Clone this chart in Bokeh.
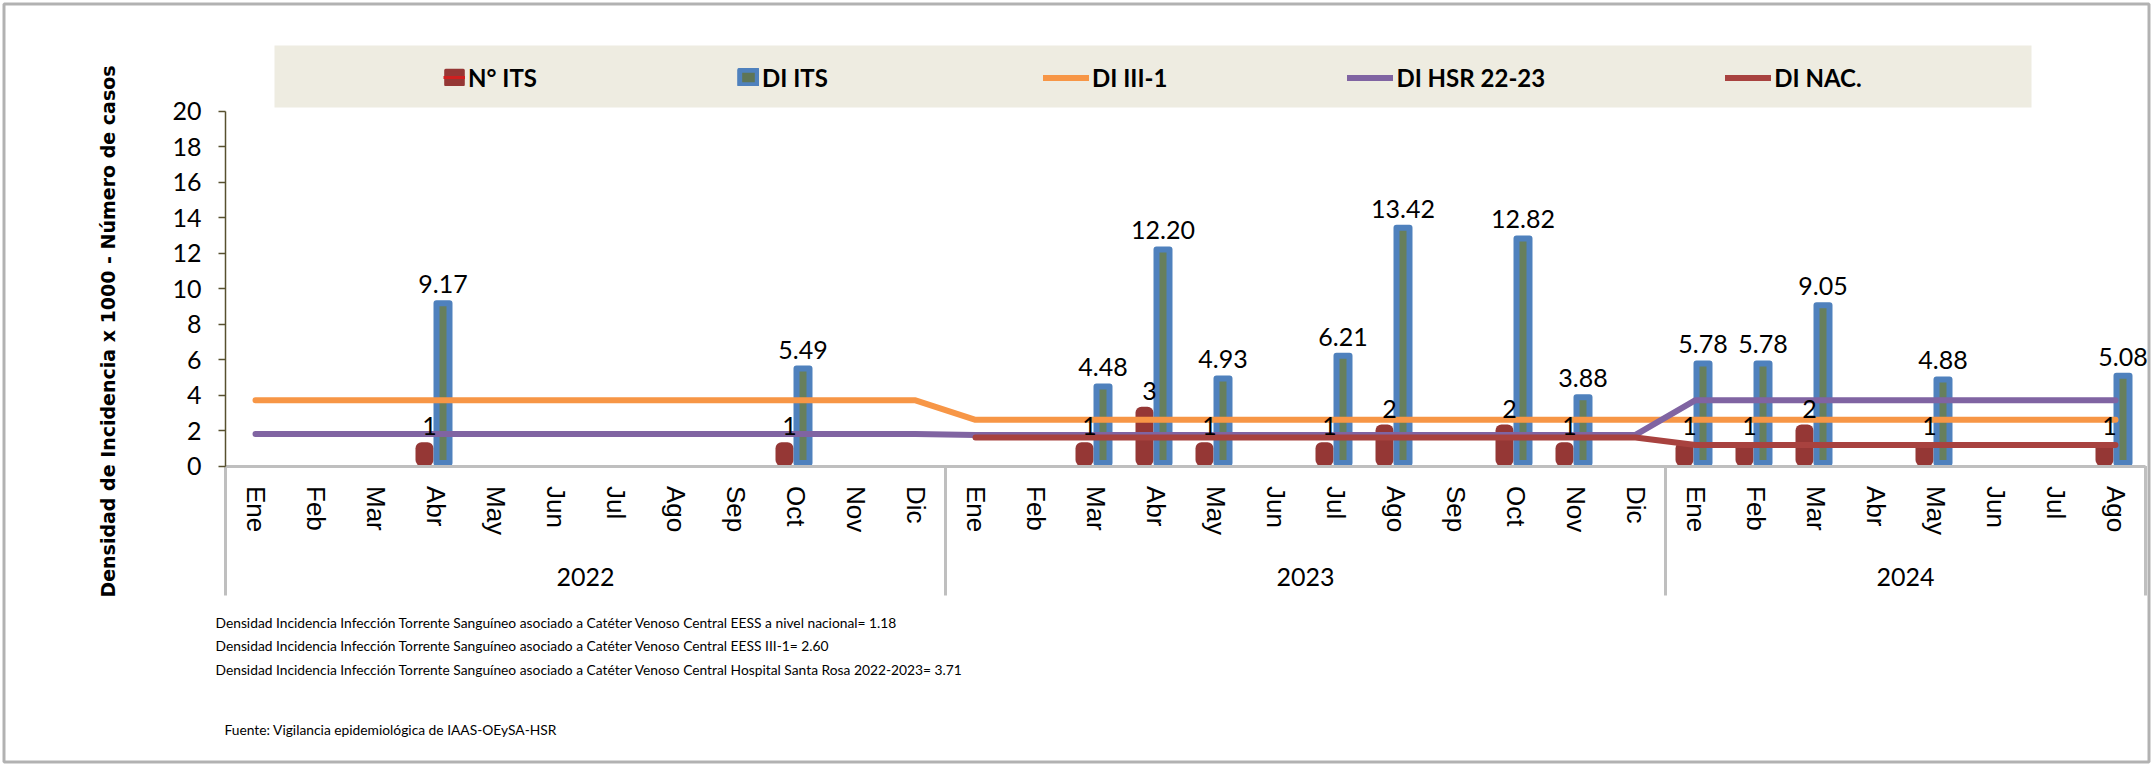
import math
from bokeh.plotting import figure
from bokeh.models import (ColumnDataSource, Legend, LegendItem, Label, BoxAnnotation,
                          Range1d, FixedTicker, LinearAxis)
from bokeh.core.properties import value
from bokeh.embed import file_html
from bokeh.resources import INLINE

# ---------------- data ----------------
years = ["2022", "2023", "2024"]
month_names = ["Ene", "Feb", "Mar", "Abr", "May", "Jun", "Jul", "Ago", "Sep", "Oct", "Nov", "Dic"]
months_per_year = [12, 12, 8]

# N° ITS (cases) per month
n_its = [None, None, None, 1, None, None, None, None, None, 1, None, None,
         None, None, 1, 3, 1, None, 1, 2, None, 2, 1, None,
         1, 1, 2, None, 1, None, None, 1]
# DI ITS (density per 1000)
di_its = [None, None, None, 9.17, None, None, None, None, None, 5.49, None, None,
          None, None, 4.48, 12.20, 4.93, None, 6.21, 13.42, None, 12.82, 3.88, None,
          5.78, 5.78, 9.05, None, 4.88, None, None, 5.08]
# reference lines
di_iii1 = [3.7] * 12 + [2.6] * 12 + [2.6] * 8
di_hsr = [1.8] * 12 + [1.75] * 12 + [3.71] * 8
di_nac = [None] * 12 + [1.6] * 12 + [1.18] * 8

y_ticks = list(range(0, 21, 2))
notes = [
    "Densidad Incidencia Infección Torrente Sanguíneo asociado a Catéter Venoso Central EESS a nivel nacional= 1.18",
    "Densidad Incidencia Infección Torrente Sanguíneo asociado a Catéter Venoso Central EESS III-1= 2.60",
    "Densidad Incidencia Infección Torrente Sanguíneo asociado a Catéter Venoso Central Hospital Santa Rosa 2022-2023= 3.71",
]
source_note = "Fuente:  Vigilancia epidemiológica de IAAS-OEySA-HSR"
y_title = "Densidad de Incidencia x 1000 - Número de casos"

# ---------------- geometry ----------------
W, H = 2152, 765
UX = 30.0                     # px per x unit (one month = 2 units)
UY = 17.75                    # px per y unit
X_LEFT_PX = 225               # px of the plot's left edge
Y0_PX = 465.5                 # px of y = 0

month_labels = [m for n in months_per_year for m in month_names[:n]]
n_cat = len(month_labels)
xc = [2 * i for i in range(n_cat)]            # category centres
starts = [sum(months_per_year[:k]) for k in range(len(years))]
group_centres = [2 * s + (n - 1) for s, n in zip(starts, months_per_year)]
bounds_x = [2 * s - 1 for s in starts] + [2 * n_cat - 1]

xs = -1 - X_LEFT_PX / UX
ys = -(H - Y0_PX) / UY
NAN = float("nan")

def nan(v):
    return NAN if v is None else v

line_src = ColumnDataSource(dict(
    x=xc,
    iii1=[nan(v) for v in di_iii1],
    hsr=[nan(v) for v in di_hsr],
    nac=[nan(v) for v in di_nac],
))
RED_OFF = -11 / UX
BLUE_OFF = 7.5 / UX
bar_idx = [i for i, v in enumerate(n_its) if v is not None]
red_src = ColumnDataSource(dict(
    x=[xc[i] + RED_OFF for i in bar_idx],
    xl=[xc[i] + RED_OFF + 5 / UX for i in bar_idx],
    n=[n_its[i] for i in bar_idx],
    lbl=[str(n_its[i]) for i in bar_idx],
))
di_idx = [i for i, v in enumerate(di_its) if v is not None]
blue_src = ColumnDataSource(dict(
    x=[xc[i] + BLUE_OFF for i in di_idx],
    d=[di_its[i] for i in di_idx],
    lbl=["%.2f" % di_its[i] for i in di_idx],
))

p = figure(width=W, height=H, x_range=Range1d(xs, xs + W / UX),
           y_range=Range1d(ys, ys + H / UY), x_axis_type=None, y_axis_type=None,
           title=None, output_backend="svg", toolbar_location=None,
           min_border=0, min_border_left=0, min_border_right=0,
           min_border_top=0, min_border_bottom=0)
p.background_fill_color = "white"
p.border_fill_color = "white"
p.outline_line_color = None

# group separators (x-axis category structure)
SEP_BOTTOM = -(595 - Y0_PX) / UY
p.segment(x0=bounds_x, y0=[0] * len(bounds_x), x1=bounds_x, y1=[SEP_BOTTOM] * len(bounds_x),
          line_color="#BFBFBF", line_width=3)

RED_LW, BLUE_LW = 12, 6
red_bars = p.vbar(x="x", top="n", bottom=RED_LW / 2 / UY, width=6 / UX, source=red_src,
                  fill_color="#953735", line_color="#953735", line_width=RED_LW,
                  line_join="round")
blue_bars = p.vbar(x="x", top="d", bottom=BLUE_LW / 2 / UY, width=13 / UX, source=blue_src,
                   fill_color="#677F5C", line_color="#4F81BD", line_width=BLUE_LW,
                   line_join="round")

l_iii1 = p.line(x="x", y="iii1", source=line_src, line_color="#F79646",
                line_width=6, line_cap="round", line_join="round")
l_hsr = p.line(x="x", y="hsr", source=line_src, line_color="#8064A2",
               line_width=6, line_cap="round", line_join="round")
l_nac = p.line(x="x", y="nac", source=line_src, line_color="#A8423F",
               line_width=6, line_cap="round", line_join="round")

p.text(x="x", y="d", text="lbl", source=blue_src,
       text_font=value("Lato"), text_font_size="25px", text_color="#000000",
       text_align="center", text_baseline="alphabetic", y_offset=-19)
p.text(x="xl", y="n", text="lbl", source=red_src,
       text_font=value("Lato"), text_font_size="25px", text_color="#000000",
       text_align="center", text_baseline="alphabetic", y_offset=-22)

# legend swatches (legend-only proxies; their single row is empty/NaN, nothing is plotted)
proxy = ColumnDataSource(dict(x=[NAN], y=[NAN]))
leg_red = p.vbar(x="x", top="y", width=0.1, source=proxy, fill_color="#953735",
                 line_color="#953735", line_width=3, line_join="round")
leg_red_dash = p.line(x="x", y="y", source=proxy, line_color="#D01F1F", line_width=3)
leg_blue = p.vbar(x="x", top="y", width=0.1, source=proxy, fill_color="#5E7556",
                  line_color="#4F81BD", line_width=5, line_join="round")

# ---------------- axes ----------------
x_month = LinearAxis(fixed_location=0, bounds=(bounds_x[0], bounds_x[-1]),
                     ticker=FixedTicker(ticks=xc),
                     major_label_overrides={x: m for x, m in zip(xc, month_labels)})
x_month.axis_line_color = "#BFBFBF"
x_month.axis_line_width = 3
x_month.major_tick_line_color = None
x_month.major_tick_out = 0
x_month.major_tick_in = 0
x_month.minor_tick_line_color = None
x_month.major_label_orientation = "vertical"
x_month.major_label_text_font = "Liberation Sans"
x_month.major_label_text_font_size = "26px"
x_month.major_label_text_color = "#000000"
x_month.major_label_standoff = 20
p.add_layout(x_month, "below")

x_year = LinearAxis(fixed_location=0, ticker=FixedTicker(ticks=group_centres),
                    major_label_overrides={c: y for c, y in zip(group_centres, years)})
x_year.axis_line_color = None
x_year.major_tick_line_color = None
x_year.major_tick_out = 0
x_year.major_tick_in = 0
x_year.minor_tick_line_color = None
x_year.major_label_text_font = "Lato"
x_year.major_label_text_font_size = "25px"
x_year.major_label_text_color = "#000000"
x_year.major_label_standoff = 102
p.add_layout(x_year, "below")

ya = LinearAxis(fixed_location=bounds_x[0], bounds=(0, 20), ticker=FixedTicker(ticks=y_ticks))
ya.axis_line_color = "#57502F"
ya.axis_line_width = 1.5
ya.major_tick_line_color = "#57502F"
ya.major_tick_line_width = 1.5
ya.major_tick_out = 7
ya.major_tick_in = 0
ya.minor_tick_line_color = None
ya.major_label_text_font = "Lato"
ya.major_label_text_font_size = "25px"
ya.major_label_text_color = "#000000"
ya.major_label_standoff = 17
p.add_layout(ya, "left")

# ---------------- frame border, legend band + legends ----------------
def sy(page_y):
    return H - page_y

p.add_layout(BoxAnnotation(left=3.5, right=W - 3.5, top=sy(3.5), bottom=sy(H - 3.5),
                           left_units="screen", right_units="screen",
                           top_units="screen", bottom_units="screen",
                           fill_alpha=0, line_color="#000000", line_width=3))

band = BoxAnnotation(left=274, right=2031, top=sy(45), bottom=sy(107),
                     left_units="screen", right_units="screen",
                     top_units="screen", bottom_units="screen",
                     fill_color="#EEECE1", fill_alpha=1.0, line_color=None,
                     level="underlay")
p.add_layout(band)

common = dict(orientation="horizontal", label_standoff=3, padding=0, margin=0,
              border_line_color=None, background_fill_alpha=0,
              label_text_font="Lato", label_text_font_style="bold",
              label_text_font_size="24px", label_text_color="#000000")

legend_bars = Legend(items=[
    LegendItem(label="N° ITS", renderers=[leg_red, leg_red_dash]),
    LegendItem(label="DI ITS", renderers=[leg_blue]),
], location=(443, sy(91.5)), spacing=200, glyph_width=22, glyph_height=18, **common)
p.add_layout(legend_bars, "center")

legend_lines = Legend(items=[
    LegendItem(label="DI III-1", renderers=[l_iii1]),
    LegendItem(label="DI HSR 22-23", renderers=[l_hsr]),
    LegendItem(label="DI NAC.", renderers=[l_nac]),
], location=(1043, sy(91.5)), spacing=180, glyph_width=46, glyph_height=25, **common)
p.add_layout(legend_lines, "center")

# y-axis title
p.add_layout(Label(x=107, y=sy(331), x_units="screen", y_units="screen",
                   text=y_title, angle=math.pi / 2, text_align="center",
                   text_baseline="middle", text_font="DejaVu Sans",
                   text_font_style="bold", text_font_size="19px",
                   text_color="#000000"))

# notes
for i, t in enumerate(notes):
    p.add_layout(Label(x=215, y=sy(622 + 23.3 * i), x_units="screen", y_units="screen",
                       text=t, text_align="left", text_baseline="middle",
                       text_font="Lato", text_font_size="13.8px", text_color="#000000"))
p.add_layout(Label(x=224, y=sy(729), x_units="screen", y_units="screen",
                   text=source_note, text_align="left", text_baseline="middle",
                   text_font="Lato", text_font_size="13.8px", text_color="#000000"))

open("out.html", "w").write(file_html(p, INLINE))
